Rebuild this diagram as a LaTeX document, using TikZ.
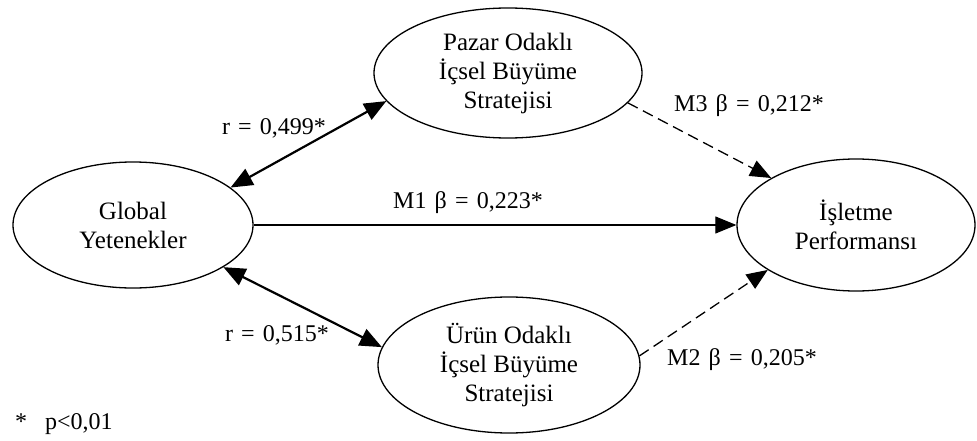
\documentclass[tikz,border=0pt]{standalone}
\usepackage{fontspec}
\setmainfont{Liberation Serif}
\usetikzlibrary{shapes.geometric,arrows.meta}
% slightly wider interword spaces for the coefficient labels
\newcommand\widespaces{\spaceskip=0.34em\relax}
\begin{document}
\begin{tikzpicture}[x=1pt,y=-1pt,
  construct/.style={ellipse,draw,line width=1.3pt,inner sep=0pt,align=center,
    font=\fontsize{25}{29}\selectfont},
  corr/.style={line width=2.2pt,{Triangle[length=22pt,width=18pt]}-{Triangle[length=22pt,width=18pt]}},
  direct/.style={line width=1.1pt,-{Triangle[length=21pt,width=17pt]}},
  mediated/.style={line width=1.3pt,dash pattern=on 11pt off 6pt,-{Triangle[length=21pt,width=17pt]}},
  lbl/.style={font=\fontsize{24}{28}\selectfont\widespaces,inner sep=0pt}]
\useasboundingbox (0,0) rectangle (977,441);

% latent constructs
\node[construct,minimum width=240pt,minimum height=126pt] (glob) at (133,225) {Global\\Yetenekler};
\node[construct,minimum width=268pt,minimum height=130pt] (pazar) at (508,73) {Pazar Odaklı\\İçsel Büyüme\\Stratejisi};
\node[construct,minimum width=262pt,minimum height=136pt] (urun) at (509,365) {Ürün Odaklı\\İçsel Büyüme\\Stratejisi};
\node[construct,minimum width=238pt,minimum height=132pt] (perf) at (856,225) {İşletme\\Performansı};

% correlations
\draw[corr] (glob.21) -- (pazar.193);
\draw[corr] (glob.-25) -- (urun.172);

% paths to performance
\draw[direct] (glob.east) -- (perf.west);
\draw[mediated] (pazar.-14) -- (perf.151);
\draw[mediated] (urun.4) -- (perf.207);

% coefficients
\node[lbl] (l1) at (274,128) {r = 0,499*};
\node[lbl] (l2) at (277,335) {r = 0,515*};
\node[lbl] (l3) at (468,203) {M1 β = 0,223*};
\node[lbl] (l4) at (749,106) {M3 β = 0,212*};
\node[lbl] (l5) at (742,360) {M2 β = 0,205*};
\node[lbl,anchor=west] (note) at (15,424) {*\hspace{18pt}p<0,01};
\end{tikzpicture}
\end{document}
